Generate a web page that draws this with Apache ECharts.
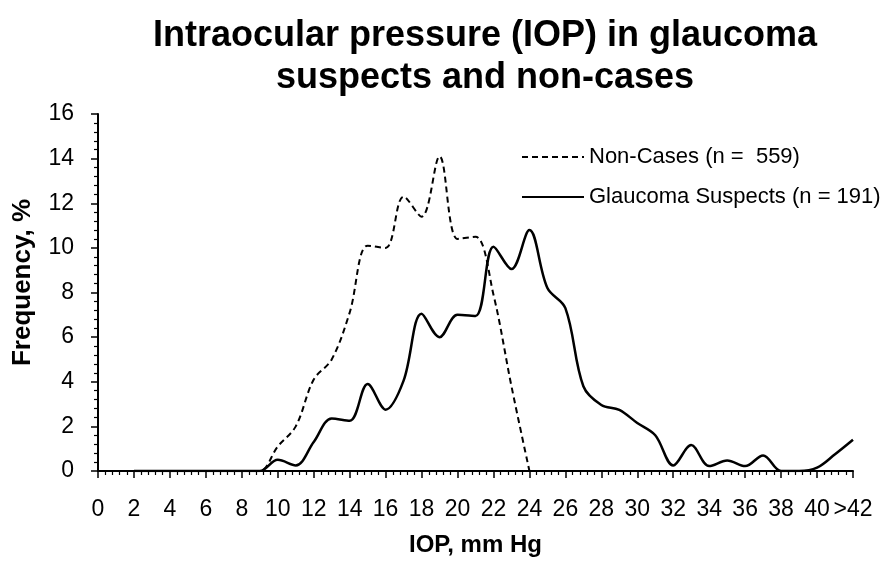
<!DOCTYPE html>
<html>
<head>
<meta charset="utf-8">
<script src="https://cdn.jsdelivr.net/npm/echarts@6/dist/echarts.min.js"></script>
<style>
html,body{margin:0;padding:0;background:#fff;}
#chart{width:882px;height:562px;}
</style>
</head>
<body>
<div id="chart"></div>
<script>
// IOP (mm Hg) positions
var iop = [2,3,4,5,6,7,8,9,10,11,12,13,14,15,16,17,18,19,20,21,22,23,24,25,26,27,28,29,30,31,32,33,34,35,36,37,38,39,40,41,42];
// Frequency, % — Non-Cases (n = 559), ends at 24
var nonCases = [0,0,0,0,0,0,0,0,1.1,2.0,4.1,5.0,7.1,10.1,10.0,12.3,11.4,14.1,10.4,10.5,7.9,3.8,0];
// Frequency, % — Glaucoma Suspects (n = 191)
var suspects = [0,0,0,0,0,0,0,0,0.5,0.25,1.3,2.35,2.25,3.9,2.75,4.05,7.05,6.0,7.0,6.95,10.05,9.05,10.8,8.2,7.3,3.8,2.96,2.74,2.15,1.6,0.25,1.16,0.22,0.47,0.22,0.7,0,0,0.15,0.75,1.4];
var xTickLabels = {42: '>42'};
var seriesNames = ['Non-Cases (n =  559)', 'Glaucoma Suspects (n = 191)'];
var titleText = 'Intraocular pressure (IOP) in glaucoma\nsuspects and non-cases';

function pairs(vals){ return vals.map(function(v,i){ return [iop[i], v]; }); }

var FONT = "'Liberation Sans', Arial, Helvetica, sans-serif";
var chart = echarts.init(document.getElementById('chart'), null, {renderer:'canvas'});
chart.setOption({
  animation: false,
  backgroundColor: '#ffffff',
  textStyle: {fontFamily: FONT, color: '#000'},
  title: {
    text: titleText,
    left: 480,
    textAlign: 'center',
    top: 10,
    textStyle: {fontFamily: FONT, fontWeight: 'bold', fontSize: 36, lineHeight: 42, color: '#000'}
  },
  legend: {
    orient: 'vertical',
    left: 516,
    top: 141,
    itemWidth: 62,
    itemHeight: 14,
    itemGap: 18,
    itemStyle: {opacity: 0},
    textStyle: {fontFamily: FONT, fontSize: 22, color: '#000'},
    data: seriesNames
  },
  grid: {left: 98, right: 29, top: 114, bottom: 83, containLabel: false},
  xAxis: {
    type: 'value',
    min: 0, max: 42, interval: 2,
    name: 'IOP, mm Hg',
    nameLocation: 'middle',
    nameGap: 62,
    nameTextStyle: {fontFamily: FONT, fontWeight: 'bold', fontSize: 24, color: '#000'},
    axisLine: {show: true, lineStyle: {color: '#000', width: 2}},
    axisTick: {show: true, length: 7, lineStyle: {color: '#000', width: 1.5}},
    minorTick: {show: true, splitNumber: 5, length: 4, lineStyle: {color: '#000', width: 1.2}},
    axisLabel: {margin: 27, fontSize: 23, color: '#000', fontFamily: FONT,
      formatter: function(v){ return xTickLabels[v] !== undefined ? xTickLabels[v] : String(v); }},
    splitLine: {show: false}
  },
  yAxis: {
    type: 'value',
    min: 0, max: 16, interval: 2,
    name: 'Frequency, %',
    nameLocation: 'middle',
    nameGap: 62,
    nameRotate: 90,
    nameTextStyle: {fontFamily: FONT, fontWeight: 'bold', fontSize: 26, color: '#000', padding: [0, 0, 0, 20]},
    axisLine: {show: true, lineStyle: {color: '#000', width: 2}},
    axisTick: {show: true, length: 7, lineStyle: {color: '#000', width: 1.5}},
    minorTick: {show: true, splitNumber: 5, length: 4, lineStyle: {color: '#000', width: 1.2}},
    axisLabel: {margin: 24, fontSize: 23, color: '#000', fontFamily: FONT},
    splitLine: {show: false}
  },
  series: [
    {
      name: seriesNames[0],
      type: 'line',
      data: pairs(nonCases),
      smooth: 0.35,
      symbol: 'none',
      lineStyle: {color: '#000', width: 2, type: [6, 4]},
      itemStyle: {color: '#000'}
    },
    {
      name: seriesNames[1],
      type: 'line',
      data: pairs(suspects),
      smooth: 0.35,
      symbol: 'none',
      lineStyle: {color: '#000', width: 2.5, type: 'solid'},
      itemStyle: {color: '#000'}
    }
  ]
});
</script>
</body>
</html>
